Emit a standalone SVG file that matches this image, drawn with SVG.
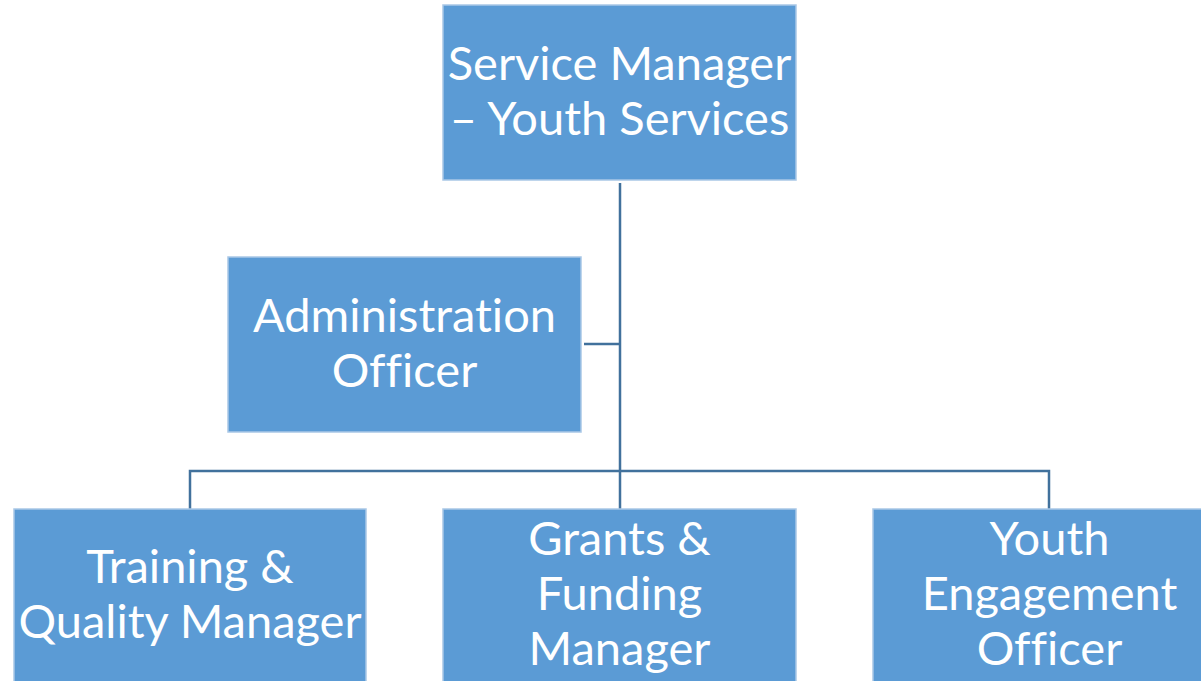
<svg xmlns="http://www.w3.org/2000/svg" width="1201" height="681" viewBox="0 0 1201 681">
<style>
.box{fill:#5B9BD5;stroke:#A9C7E6;stroke-width:1.5}
.t{fill:#fff;font-family:Lato,"Open Sans","Liberation Sans",sans-serif;font-size:47px;text-anchor:middle;font-variant-ligatures:none}
.c{fill:none;stroke:#41719C;stroke-width:2.5}
</style>
<rect width="1201" height="681" fill="#fff"/>
<g id="connectors">
<path class="c" d="M620 183V509"/>
<path class="c" d="M584 344H620"/>
<path class="c" d="M190 509V471H1049V509"/>
</g>
<g id="service-manager">
<rect class="box" x="443" y="5" width="353" height="175"/>
<text class="t" x="619.5" y="80">Service Manager</text>
<text class="t" x="619.5" y="135">– Youth Services</text>
</g>
<g id="admin-officer">
<rect class="box" x="228" y="257" width="353" height="175"/>
<text class="t" x="404.5" y="332">Administration</text>
<text class="t" x="404.5" y="387">Officer</text>
</g>
<g id="training-quality">
<rect class="box" x="14" y="509" width="352" height="185"/>
<text class="t" x="190" y="583">Training &amp;</text>
<text class="t" x="190" y="638">Quality Manager</text>
</g>
<g id="grants-funding">
<rect class="box" x="443" y="509" width="353" height="185"/>
<text class="t" x="619.5" y="555">Grants &amp;</text>
<text class="t" x="619.5" y="610">Funding</text>
<text class="t" x="619.5" y="665">Manager</text>
</g>
<g id="youth-engagement">
<rect class="box" x="873" y="509" width="353" height="185"/>
<text class="t" x="1049.5" y="555">Youth</text>
<text class="t" x="1049.5" y="610">Engagement</text>
<text class="t" x="1049.5" y="665">Officer</text>
</g>
</svg>
